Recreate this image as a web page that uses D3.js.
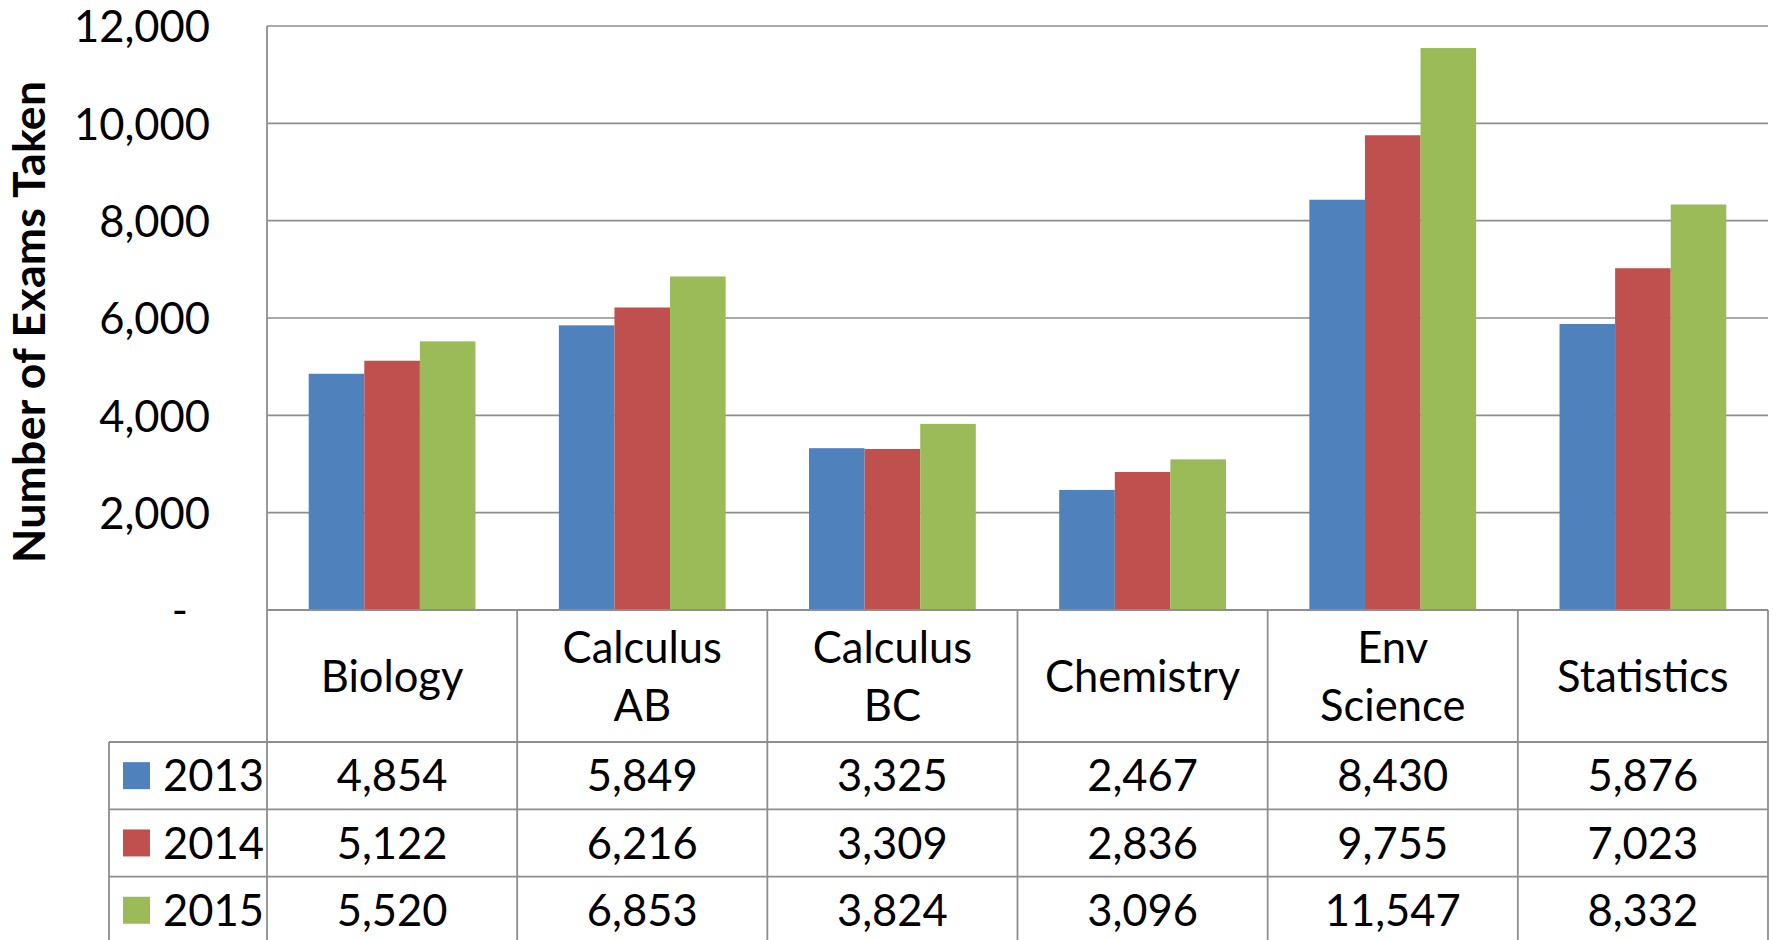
<!DOCTYPE html>
<html>
<head>
<meta charset="utf-8">
<script src="https://cdn.jsdelivr.net/npm/d3@7"></script>
<style>
  html, body { margin: 0; padding: 0; background: #fff; }
  svg { display: block; }
  text { font-family: Lato, "Open Sans", sans-serif; fill: #000; }
</style>
</head>
<body>
<svg id="chart" width="1773" height="940"></svg>
<script>
// ---- data ----
const categories = ["Biology", "Calculus AB", "Calculus BC", "Chemistry", "Env Science", "Statistics"];
const categoryLines = [["Biology"], ["Calculus", "AB"], ["Calculus", "BC"], ["Chemistry"], ["Env", "Science"], ["Statistics"]];
const series = ["2013", "2014", "2015"];
const values2013 = [4854, 5849, 3325, 2467, 8430, 5876];
const values2014 = [5122, 6216, 3309, 2836, 9755, 7023];
const values2015 = [5520, 6853, 3824, 3096, 11547, 8332];
const yTicks = [0, 2000, 4000, 6000, 8000, 10000, 12000];
const colors = ["#4F81BD", "#C0504D", "#9BBB59"];
const yTitle = "Number of Exams Taken";

const seriesValues = [values2013, values2014, values2015];

// ---- layout ----
const svg = d3.select("#chart");
const plotLeft = 267, plotRight = 1768, plotTop = 26, plotBottom = 610;
const headerBottom = 742, rowH = 67.3, legendLeft = 109;
const gridColor = "#8e8e8e";
const fs = "43.5px";

const x = d3.scaleBand().domain(categories).range([plotLeft, plotRight]).padding(0);
const xs = d3.scaleBand().domain(series).range([0, x.bandwidth()]).paddingInner(0).paddingOuter(0.75);
const y = d3.scaleLinear().domain([0, 12000]).range([plotBottom, plotTop]);

// gridlines
svg.append("g").selectAll("line").data(yTicks.filter(d => d > 0)).join("line")
  .attr("x1", plotLeft).attr("x2", plotRight)
  .attr("y1", d => y(d)).attr("y2", d => y(d))
  .attr("stroke", gridColor).attr("stroke-width", 1.6);

// bars
const gBars = svg.append("g");
series.forEach((s, si) => {
  gBars.append("g").selectAll("rect").data(categories).join("rect")
    .attr("x", c => x(c) + xs(s))
    .attr("width", xs.bandwidth())
    .attr("y", (c, i) => y(seriesValues[si][i]))
    .attr("height", (c, i) => y(0) - y(seriesValues[si][i]))
    .attr("fill", colors[si]);
});

// y axis labels
const yAxis = d3.axisLeft(y).tickValues(yTicks).tickSize(0).tickPadding(0)
  .tickFormat(d => d === 0 ? "-" : d3.format(",")(d));
const gy = svg.append("g").attr("transform", "translate(210,0)").call(yAxis);
gy.select(".domain").remove();
gy.selectAll("text")
  .style("font-family", "Lato, sans-serif")
  .style("font-size", fs)
  .attr("fill", "#000")
  .attr("dx", d => d === 0 ? -22 : 0)
  .attr("dy", "0.36em");

// y title
svg.append("text")
  .attr("transform", "translate(45,322) rotate(-90)")
  .attr("text-anchor", "middle")
  .attr("textLength", 482).attr("lengthAdjust", "spacing")
  .style("font-size", "44.5px").style("font-weight", "bold")
  .text(yTitle);

// ---- data table ----
const gT = svg.append("g");
// horizontal lines
gT.append("line").attr("x1", plotLeft).attr("x2", plotRight).attr("y1", plotBottom).attr("y2", plotBottom)
  .attr("stroke", gridColor).attr("stroke-width", 1.8);
[0, 1, 2].forEach(i => {
  gT.append("line").attr("x1", legendLeft).attr("x2", plotRight)
    .attr("y1", headerBottom + rowH * i).attr("y2", headerBottom + rowH * i)
    .attr("stroke", gridColor).attr("stroke-width", 1.8);
});
// y axis line
gT.append("line").attr("x1", plotLeft).attr("x2", plotLeft).attr("y1", plotTop).attr("y2", 945)
  .attr("stroke", gridColor).attr("stroke-width", 1.8);
// vertical dividers
categories.forEach(c => {
  gT.append("line").attr("x1", x(c) + x.bandwidth()).attr("x2", x(c) + x.bandwidth())
    .attr("y1", plotBottom).attr("y2", 945)
    .attr("stroke", gridColor).attr("stroke-width", 1.8);
});
gT.append("line").attr("x1", legendLeft).attr("x2", legendLeft).attr("y1", headerBottom).attr("y2", 945)
  .attr("stroke", gridColor).attr("stroke-width", 1.8);

// header labels
const headerMid = (plotBottom + headerBottom) / 2;
categories.forEach((c, i) => {
  const lines = categoryLines[i];
  const t = gT.append("text").attr("text-anchor", "middle").style("font-size", fs);
  lines.forEach((ln, li) => {
    const off = (li - (lines.length - 1) / 2) * 58;
    t.append("tspan").attr("x", x(c) + x.bandwidth() / 2)
      .attr("y", headerMid + off).attr("dy", "0.36em").text(ln);
  });
});

// value rows
series.forEach((s, si) => {
  const cy = headerBottom + rowH * si + rowH / 2;
  gT.append("rect").attr("x", 123).attr("y", cy - 13.5).attr("width", 27).attr("height", 27).attr("fill", colors[si]);
  gT.append("text").attr("x", 163).attr("y", cy).attr("dy", "0.36em").style("font-size", fs).text(s);
  categories.forEach((c, ci) => {
    gT.append("text").attr("x", x(c) + x.bandwidth() / 2).attr("y", cy).attr("dy", "0.36em")
      .attr("text-anchor", "middle").style("font-size", fs)
      .text(d3.format(",")(seriesValues[si][ci]));
  });
});
</script>
</body>
</html>
